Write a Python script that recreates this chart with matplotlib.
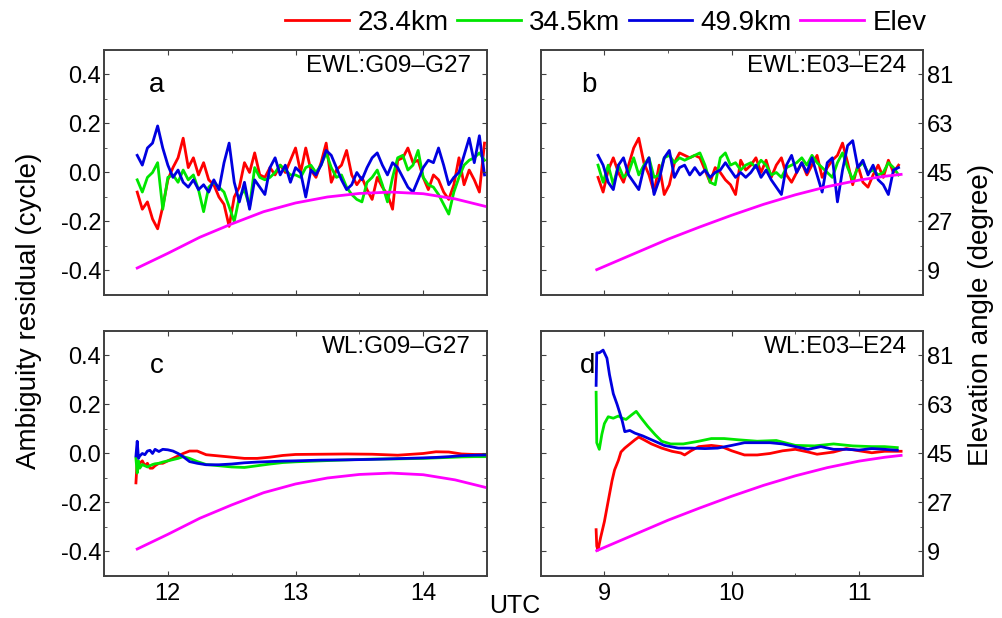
import numpy as np
import matplotlib
matplotlib.use('Agg')
import matplotlib.pyplot as plt
from matplotlib.ticker import MultipleLocator

plt.rcParams['font.family'] = ['Liberation Sans', 'DejaVu Sans']
plt.rcParams['axes.unicode_minus'] = False

# ---- data ----
# panel a (EWL G09-G27), residual in cycles, one value every 0.04 h from 11.76 h
t_a = np.linspace(11.76, 14.48, 69)
a_red = [-0.08, -0.15, -0.12, -0.19, -0.23, -0.14, -0.03, 0.02, 0.06, 0.14,
         0.02, 0.06, -0.01, 0.04, -0.03, -0.05, -0.10, -0.13, -0.22, -0.10,
         -0.06, 0.04, 0.00, 0.08, -0.01, -0.02, 0.02, -0.01, 0.03, 0.00,
         0.05, 0.10, 0.00, 0.10, 0.01, -0.02, 0.04, 0.12, -0.04, 0.01,
         0.03, 0.09, -0.01, -0.05, -0.02, -0.07, -0.11, -0.02, -0.06, -0.09,
         -0.15, 0.05, 0.06, 0.10, 0.04, 0.05, -0.02, -0.07, -0.01, -0.03,
         -0.08, -0.11, -0.05, 0.06, -0.05, 0.01, -0.03, -0.08, 0.12]
a_green = [-0.03, -0.08, -0.02, 0.00, 0.04, -0.15, -0.02, -0.01, -0.04, 0.01,
           -0.03, -0.01, -0.07, -0.16, -0.06, -0.04, -0.06, -0.08, -0.14, -0.20,
           -0.10, -0.07, -0.14, 0.02, -0.02, -0.03, -0.02, 0.00, 0.03, 0.01,
           -0.01, -0.01, -0.02, 0.02, 0.03, 0.00, 0.03, 0.08, 0.02, -0.02,
           -0.01, -0.06, -0.09, -0.11, -0.12, -0.04, -0.02, 0.01, -0.05, -0.12,
           -0.02, 0.06, 0.07, 0.01, 0.03, 0.09, -0.02, -0.05, -0.06, -0.09,
           -0.13, -0.17, -0.08, -0.02, 0.03, 0.05, 0.06, 0.08, 0.05]
a_blue = [0.07, 0.03, 0.10, 0.12, 0.19, 0.10, 0.03, -0.02, 0.01, -0.04,
          -0.06, -0.03, -0.07, -0.05, -0.08, -0.03, -0.07, 0.04, 0.12, -0.04,
          -0.12, -0.04, -0.15, -0.03, -0.06, -0.09, 0.02, 0.06, -0.01, 0.03,
          -0.04, 0.02, 0.00, -0.10, 0.01, -0.01, 0.03, 0.09, 0.07, 0.02,
          -0.03, -0.07, -0.05, 0.00, -0.03, 0.02, 0.06, 0.08, 0.03, -0.01,
          0.04, 0.02, -0.02, -0.06, -0.08, -0.03, 0.02, 0.05, 0.04, 0.10,
          0.03, -0.05, -0.02, 0.00, 0.07, 0.14, 0.04, 0.15, -0.01]

# panel b (EWL E03-E24), one value every 0.04 h from 8.95 h
t_b = np.linspace(8.95, 11.31, 60)
b_red = [-0.02, -0.08, 0.01, 0.06, 0.00, -0.04, 0.03, 0.10, 0.14, 0.04,
         -0.01, -0.08, 0.03, -0.09, -0.05, 0.04, 0.08, 0.07, 0.06, 0.07,
         0.06, 0.01, -0.04, 0.02, 0.00, -0.03, -0.05, -0.09, 0.05, 0.01,
         0.03, 0.06, 0.00, 0.05, -0.02, 0.03, 0.06, -0.01, -0.04, 0.00,
         0.04, -0.01, 0.03, 0.07, -0.02, 0.02, 0.05, 0.07, 0.12, 0.04,
         -0.05, 0.03, -0.04, -0.06, -0.01, 0.03, -0.02, 0.05, 0.00, 0.03]
b_green = [0.03, -0.04, 0.03, -0.05, 0.03, -0.02, 0.00, 0.06, -0.01, 0.03,
           0.06, -0.02, -0.01, 0.06, 0.07, 0.04, 0.06, 0.05, 0.06, 0.07,
           0.08, 0.03, -0.04, -0.05, 0.06, 0.08, 0.03, 0.04, 0.01, 0.03,
           0.04, 0.02, 0.05, 0.03, -0.01, 0.00, -0.02, 0.02, 0.03, 0.04,
           0.06, 0.03, 0.07, 0.04, 0.02, 0.00, -0.02, 0.04, 0.08, 0.02,
           -0.03, 0.02, 0.04, 0.00, 0.01, -0.01, 0.00, 0.04, 0.02, -0.01]
b_blue = [0.07, 0.03, -0.04, -0.07, 0.03, 0.06, -0.01, -0.04, -0.07, 0.02,
          0.06, -0.09, -0.03, 0.06, 0.09, -0.02, 0.02, 0.03, -0.01, 0.02,
          -0.01, 0.01, -0.02, 0.00, 0.01, 0.04, 0.01, -0.02, 0.00, -0.02,
          0.00, 0.03, -0.02, 0.01, -0.03, -0.06, -0.09, 0.03, 0.07, 0.00,
          0.04, 0.00, 0.06, -0.01, -0.08, 0.04, 0.06, -0.12, 0.01, 0.11,
          0.13, 0.02, 0.05, -0.01, 0.03, -0.03, -0.05, -0.09, 0.01, 0.02]

# panel c (WL G09-G27)
t_c = [11.75, 11.76, 11.77, 11.78, 11.80, 11.82, 11.84, 11.86, 11.88, 11.90,
       11.93, 11.96, 12.00, 12.04, 12.08, 12.12, 12.17, 12.23, 12.30, 12.40,
       12.50, 12.60, 12.70, 12.80, 12.90, 13.00, 13.20, 13.40, 13.60, 13.80,
       14.00, 14.10, 14.20, 14.30, 14.40, 14.50]
c_red = [-0.12, -0.03, -0.05, -0.04, -0.03, -0.05, -0.04, -0.06, -0.06, -0.05,
         -0.04, -0.04, -0.03, -0.02, -0.01, 0.00, 0.01, 0.01, -0.005, -0.01,
         -0.015, -0.02, -0.02, -0.015, -0.008, -0.004, -0.003, -0.002, -0.003, -0.007,
         0.000, 0.007, 0.006, -0.002, -0.004, -0.004]
c_green = [-0.02, -0.08, -0.03, -0.06, -0.045, -0.05, -0.055, -0.05, -0.045, -0.042,
           -0.04, -0.035, -0.03, -0.025, -0.02, -0.013, -0.02, -0.033, -0.045, -0.05,
           -0.055, -0.057, -0.05, -0.043, -0.037, -0.034, -0.03, -0.026, -0.023, -0.022,
           -0.02, -0.018, -0.016, -0.014, -0.013, -0.013]
c_blue = [-0.01, 0.05, -0.02, -0.01, 0.00, -0.005, 0.01, 0.013, 0.00, 0.017,
          0.008, 0.017, 0.015, 0.01, 0.00, -0.013, -0.033, -0.04, -0.046, -0.046,
          -0.043, -0.038, -0.035, -0.033, -0.031, -0.03, -0.027, -0.026, -0.024, -0.021,
          -0.018, -0.016, -0.013, -0.009, -0.007, -0.006]

# panel d (WL E03-E24)
t_d_red = [8.935, 8.94, 8.95, 8.97, 9.00, 9.03, 9.06, 9.08, 9.11, 9.13,
           9.16, 9.20, 9.24, 9.27, 9.31, 9.37, 9.45, 9.53, 9.60, 9.63,
           9.68, 9.74, 9.84, 9.92, 10.0, 10.1, 10.2, 10.3, 10.4, 10.5,
           10.6, 10.67, 10.8, 10.9, 11.0, 11.1, 11.2, 11.33]
d_red = [-0.311, -0.378, -0.394, -0.344, -0.278, -0.194, -0.111, -0.067, -0.028, 0.006,
         0.022, 0.039, 0.056, 0.067, 0.056, 0.039, 0.022, 0.009, 0.002, -0.006,
         0.011, 0.028, 0.033, 0.028, 0.011, -0.006, -0.006, 0.000, 0.011, 0.017,
         0.006, -0.003, 0.006, 0.020, 0.011, 0.003, 0.009, 0.009]
t_d_green = [8.935, 8.94, 8.96, 8.98, 9.00, 9.03, 9.07, 9.11, 9.14, 9.17,
             9.21, 9.25, 9.29, 9.34, 9.40, 9.45, 9.52, 9.62, 9.74, 9.84,
             9.94, 10.05, 10.2, 10.35, 10.5, 10.65, 10.8, 10.95, 11.1, 11.2, 11.3]
d_green = [0.25, 0.044, 0.017, 0.078, 0.122, 0.15, 0.144, 0.153, 0.144, 0.139,
           0.156, 0.172, 0.144, 0.111, 0.076, 0.05, 0.039, 0.039, 0.05, 0.061,
           0.061, 0.056, 0.05, 0.053, 0.033, 0.031, 0.039, 0.031, 0.028, 0.028, 0.024]
t_d_blue = [8.935, 8.94, 8.96, 8.99, 9.02, 9.04, 9.07, 9.10, 9.12, 9.14,
            9.16, 9.20, 9.24, 9.30, 9.37, 9.47, 9.58, 9.68, 9.79, 9.89,
            10.0, 10.1, 10.2, 10.3, 10.4, 10.5, 10.6, 10.7, 10.8, 10.9,
            11.0, 11.1, 11.2, 11.3]
d_blue = [0.278, 0.411, 0.411, 0.422, 0.389, 0.322, 0.244, 0.20, 0.167, 0.133,
          0.089, 0.094, 0.083, 0.072, 0.056, 0.033, 0.022, 0.022, 0.020, 0.022,
          0.033, 0.044, 0.044, 0.044, 0.039, 0.028, 0.017, 0.028, 0.017, 0.017,
          0.014, 0.020, 0.017, 0.013]

# elevation angle (degree)
t_elev_g = [11.76, 12.0, 12.25, 12.5, 12.75, 13.0, 13.25, 13.5, 13.75, 14.0, 14.25, 14.5]
elev_g = [9.9, 15.3, 21.2, 26.1, 30.6, 33.8, 36.0, 37.3, 37.8, 37.2, 35.3, 32.4]
t_elev_e = [8.94, 9.25, 9.5, 9.75, 10.0, 10.25, 10.5, 10.75, 11.0, 11.2, 11.33]
elev_e = [9.3, 15.5, 20.5, 25.0, 29.3, 33.3, 36.8, 39.8, 42.2, 43.6, 44.3]

labels = ['23.4km', '34.5km', '49.9km', 'Elev']
colors = ['#ff0000', '#00e600', '#0000e0', '#ff00ff']

fig = plt.figure(figsize=(10.03, 6.18), dpi=100)
spine_c = '#404040'


def panel(rect, xlim, xmaj, series, elev, left_lab, right_lab, bottom_lab,
          tag, tag_x, title):
    ax = fig.add_axes(rect)
    for (t, v), c in zip(series, colors[:3]):
        ax.plot(t, v, color=c, lw=2.0)
    ax.set_xlim(xlim)
    ax.set_ylim(-0.5, 0.5)
    ax.set_xticks(xmaj)
    ax.xaxis.set_minor_locator(MultipleLocator(0.5))
    ax.set_yticks([-0.4, -0.2, 0.0, 0.2, 0.4])
    ax.set_yticklabels(['-0.4', '-0.2', '0.0', '0.2', '0.4'])
    ax.yaxis.set_minor_locator(MultipleLocator(0.1))
    ax.tick_params(which='both', direction='in', top=True, right=False,
                   color=spine_c, labelsize=17, labelleft=left_lab,
                   labelbottom=bottom_lab)
    ax.tick_params(axis='y', pad=2)
    ax.tick_params(axis='x', pad=5)
    ax.tick_params(which='major', length=3.5)
    ax.tick_params(which='minor', length=2.2)
    ax2 = ax.twinx()
    ax2.plot(elev[0], elev[1], color=colors[3], lw=2.0)
    ax2.set_ylim(0, 90)
    ax2.set_yticks([9, 27, 45, 63, 81])
    ax2.yaxis.set_minor_locator(MultipleLocator(9))
    ax2.tick_params(which='both', direction='in', color=spine_c, labelsize=17,
                    labelright=right_lab, pad=3)
    ax2.tick_params(which='major', length=3.5)
    ax2.tick_params(which='minor', length=2.2)
    for a in (ax, ax2):
        for s in a.spines.values():
            s.set_color(spine_c)
            s.set_linewidth(1.2)
    ax.text(tag_x, 0.83, tag, transform=ax.transAxes, ha='center',
            va='baseline', fontsize=20)
    ax.text(0.958, 0.91, title, transform=ax.transAxes, ha='right',
            va='baseline', fontsize=17.5)
    return ax, ax2


ax_a, ax_a2 = panel([0.1037, 0.5227, 0.3819, 0.3964], (11.5, 14.5), [12, 13, 14],
                    [(t_a, a_red), (t_a, a_green), (t_a, a_blue)], (t_elev_g, elev_g),
                    True, False, False, 'a', 0.138, 'EWL:G09–G27')
panel([0.5391, 0.5227, 0.3809, 0.3964], (8.5, 11.5), [9, 10, 11],
      [(t_b, b_red), (t_b, b_green), (t_b, b_blue)], (t_elev_e, elev_e),
      False, True, False, 'b', 0.126, 'EWL:E03–E24')
panel([0.1037, 0.068, 0.3819, 0.3964], (11.5, 14.5), [12, 13, 14],
      [(t_c, c_red), (t_c, c_green), (t_c, c_blue)], (t_elev_g, elev_g),
      True, False, True, 'c', 0.138, 'WL:G09–G27')
panel([0.5391, 0.068, 0.3809, 0.3964], (8.5, 11.5), [9, 10, 11],
      [(t_d_red, d_red), (t_d_green, d_green), (t_d_blue, d_blue)], (t_elev_e, elev_e),
      False, True, True, 'd', 0.122, 'WL:E03–E24')

handles = ax_a.get_lines() + ax_a2.get_lines()
fig.legend(handles, labels, loc='center', bbox_to_anchor=(0.604, 0.963), ncol=4,
           frameon=False, fontsize=20, handlelength=2.3, handletextpad=0.3,
           columnspacing=0.3, borderpad=0.1)

fig.text(0.029, 0.497, 'Ambiguity residual (cycle)', rotation=90,
         ha='center', va='center', fontsize=20)
fig.text(0.978, 0.49, 'Elevation angle (degree)', rotation=90,
         ha='center', va='center', fontsize=20)
fig.text(0.513, 0.019, 'UTC', ha='center', va='center', fontsize=18)

fig.savefig('out.png', dpi=100)
